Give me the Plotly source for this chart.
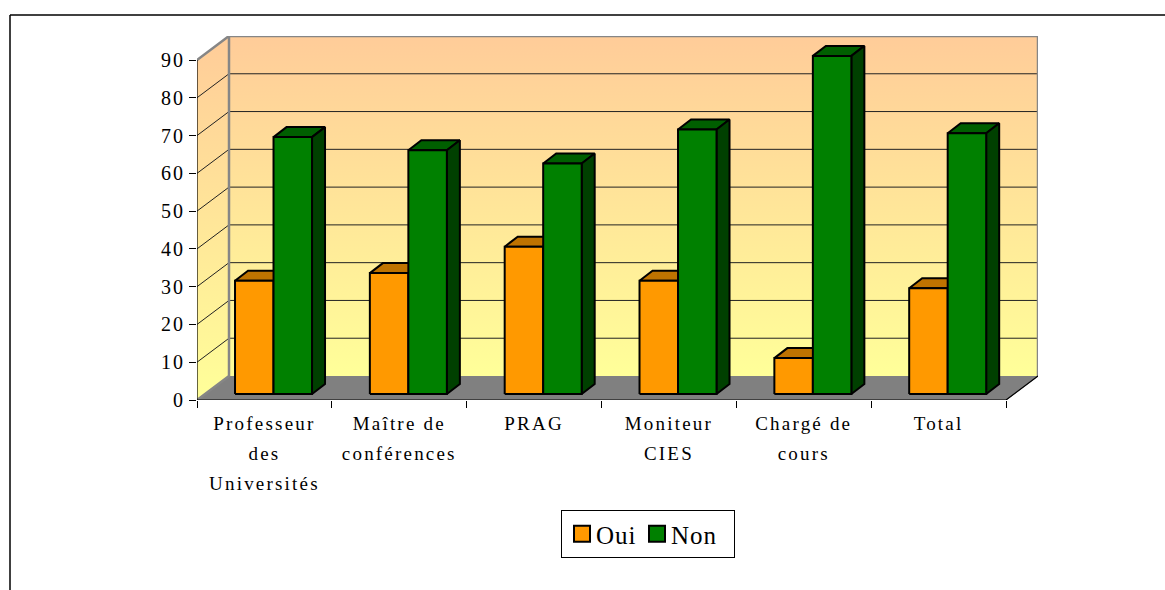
import plotly.graph_objects as go

categories = ["Professeur<br>des<br>Universités", "Maître de<br>conférences", "PRAG",
              "Moniteur<br>CIES", "Chargé de<br>cours", "Total"]
oui = [30, 32, 39, 30, 9.5, 28]
non = [68, 64.5, 61, 70, 89.5, 69]
y_ticks = [0, 10, 20, 30, 40, 50, 60, 70, 80, 90]

W, H = 1165, 590
LEFT, RIGHT, BOTTOM, TOP = 197, 1038, 400, 36
CAT_PX = (1006 - 197) / 6
UNIT_PX = 340 / 90
DEPTH_X = 32 / CAT_PX
DEPTH_Y = 24 / UNIT_PX
BAR_W = 38.5 / CAT_PX
BAR_START = 0.282
BASE = 6 / UNIT_PX
BAR_DX = 13 / CAT_PX
BAR_DY = 10 / UNIT_PX
N = len(categories)
Y_MAX = y_ticks[-1]


def poly(xs, ys, fill, line="black", width=2):
    return go.Scatter(x=xs, y=ys, mode="lines", fill="toself", fillcolor=fill,
                      line=dict(color=line, width=width), hoverinfo="skip", showlegend=False)


def line(xs, ys, color, width):
    return go.Scatter(x=xs, y=ys, mode="lines", line=dict(color=color, width=width),
                      hoverinfo="skip", showlegend=False)


def faces(values, x0s):
    front_x, front_y, top_x, top_y, side_x, side_y = [], [], [], [], [], []
    for x0, v in zip(x0s, values):
        x1 = x0 + BAR_W
        t = BASE + v
        front_x += [x0, x1, x1, x0, x0, None]
        front_y += [BASE, BASE, t, t, BASE, None]
        top_x += [x0, x0 + BAR_DX, x1 + BAR_DX, x1, x0, None]
        top_y += [t, t + BAR_DY, t + BAR_DY, t, t, None]
        side_x += [x1, x1 + BAR_DX, x1 + BAR_DX, x1, x1, None]
        side_y += [BASE, BASE + BAR_DY, t + BAR_DY, t, BASE, None]
    return front_x, front_y, top_x, top_y, side_x, side_y


fig = go.Figure()
GRAD = [[0, "#FFFF99"], [1, "#FFCC99"]]

# floor
fig.add_trace(poly([0, DEPTH_X, N + DEPTH_X, N, 0], [0, DEPTH_Y, DEPTH_Y, 0, 0], "#808080", "#808080", 1))
# walls
for xs, ys in [([DEPTH_X, N + DEPTH_X, N + DEPTH_X, DEPTH_X, DEPTH_X],
                [DEPTH_Y, DEPTH_Y, Y_MAX + DEPTH_Y, Y_MAX + DEPTH_Y, DEPTH_Y]),
               ([0, DEPTH_X, DEPTH_X, 0, 0],
                [0, DEPTH_Y, Y_MAX + DEPTH_Y, Y_MAX, 0])]:
    fig.add_trace(go.Scatter(x=xs, y=ys, mode="lines", fill="toself",
                             fillgradient=dict(type="vertical", colorscale=GRAD),
                             line=dict(width=0), hoverinfo="skip", showlegend=False))
# gridlines
for v in y_ticks[1:-1]:
    fig.add_trace(line([0, DEPTH_X, N + DEPTH_X], [v, v + DEPTH_Y, v + DEPTH_Y], "#222222", 1))
# wall edges
fig.add_trace(line([0, DEPTH_X, N + DEPTH_X, N + DEPTH_X],
                   [Y_MAX, Y_MAX + DEPTH_Y, Y_MAX + DEPTH_Y, DEPTH_Y], "#868686", 2.5))
fig.add_trace(line([0, DEPTH_X, DEPTH_X], [0, DEPTH_Y, Y_MAX + DEPTH_Y], "#868686", 2.5))
# front edges
fig.add_trace(line([N + DEPTH_X, N, 0, 0], [DEPTH_Y, 0, 0, Y_MAX], "black", 1.2))

# bars
xo = [i + BAR_START for i in range(N)]
xn = [i + BAR_START + BAR_W for i in range(N)]
ofx, ofy, otx, oty, osx, osy = faces(oui, xo)
nfx, nfy, ntx, nty, nsx, nsy = faces(non, xn)
fig.add_trace(poly(otx, oty, "#BF7300"))
fig.add_trace(poly(osx, osy, "#7F4C00"))
fig.add_trace(poly(ntx, nty, "#005F00"))
fig.add_trace(poly(nsx, nsy, "#004000"))
fig.add_trace(poly(ofx, ofy, "#FF9900"))
fig.add_trace(poly(nfx, nfy, "#008000"))

# legend entries
for name, col in [("Oui", "#FF9900"), ("Non", "#008000")]:
    fig.add_trace(go.Scatter(x=[None], y=[None], mode="markers", name=name,
                             marker=dict(symbol="square", size=16, color=col,
                                         line=dict(color="black", width=2))))

FONT = "Liberation Serif"
fig.update_layout(
    width=W, height=H, autosize=False,
    margin=dict(l=LEFT, r=W - RIGHT, t=TOP, b=H - BOTTOM, pad=0),
    paper_bgcolor="white", plot_bgcolor="white",
    font=dict(family=FONT, size=18, color="black"),
    showlegend=True,
    legend=dict(orientation="h", xanchor="left", yanchor="top", x=(561 - LEFT) / (RIGHT - LEFT),
                y=-(510 - BOTTOM) / (BOTTOM - TOP), bordercolor="black", borderwidth=1,
                bgcolor="white", font=dict(family=FONT, size=25), itemwidth=30,
                entrywidth=30, entrywidthmode="pixels"),
    xaxis=dict(range=[0, N + DEPTH_X], showgrid=False, zeroline=False, showline=False,
               tickmode="array", tickvals=[i + 0.5 for i in range(N)], ticktext=categories,
               ticks="", tickangle=0, tickfont=dict(family=FONT, size=19), ticklabelstandoff=10,
               minor=dict(tickmode="array", tickvals=list(range(N + 1)), ticks="outside",
                          ticklen=7, tickcolor="black", tickwidth=1, showgrid=False)),
    yaxis=dict(range=[0, Y_MAX + DEPTH_Y], showgrid=False, zeroline=False, showline=False,
               tickmode="array", tickvals=y_ticks, ticks="outside", ticklen=7,
               tickcolor="black", tickwidth=1, tickfont=dict(family=FONT, size=20)),
    shapes=[dict(type="line", xref="paper", yref="paper",
                 x0=(10 - LEFT) / (RIGHT - LEFT), x1=(1165 - LEFT) / (RIGHT - LEFT),
                 y0=(BOTTOM - 15) / (BOTTOM - TOP), y1=(BOTTOM - 15) / (BOTTOM - TOP),
                 line=dict(color="black", width=1.5)),
            dict(type="line", xref="paper", yref="paper",
                 x0=(10 - LEFT) / (RIGHT - LEFT), x1=(10 - LEFT) / (RIGHT - LEFT),
                 y0=(BOTTOM - 15) / (BOTTOM - TOP), y1=(BOTTOM - 590) / (BOTTOM - TOP),
                 line=dict(color="black", width=1.5))],
)

fig.write_html("out.html", config={"displayModeBar": False},
               post_script="document.body.style.margin='0';"
                           "document.querySelectorAll('.xtick text').forEach(t=>{t.style.letterSpacing='2.2px';"
                           "t.querySelectorAll('tspan.line').forEach((s,i)=>{s.setAttribute('dy',(30*i)+'px');});});"
                           "document.querySelectorAll('.ytick text').forEach(t=>t.style.letterSpacing='2px');"
                           "document.querySelectorAll('.legendtext').forEach(t=>{t.style.letterSpacing='1px';t.setAttribute('x','34');});"
                           "document.querySelectorAll('.legend .bg').forEach(r=>r.setAttribute('width','173'));"
                           "document.querySelectorAll('clipPath[id^=legend] rect').forEach(r=>r.setAttribute('width','173'));"
                           "document.querySelectorAll('.legend .scrollbox').forEach(r=>r.removeAttribute('clip-path'));")
